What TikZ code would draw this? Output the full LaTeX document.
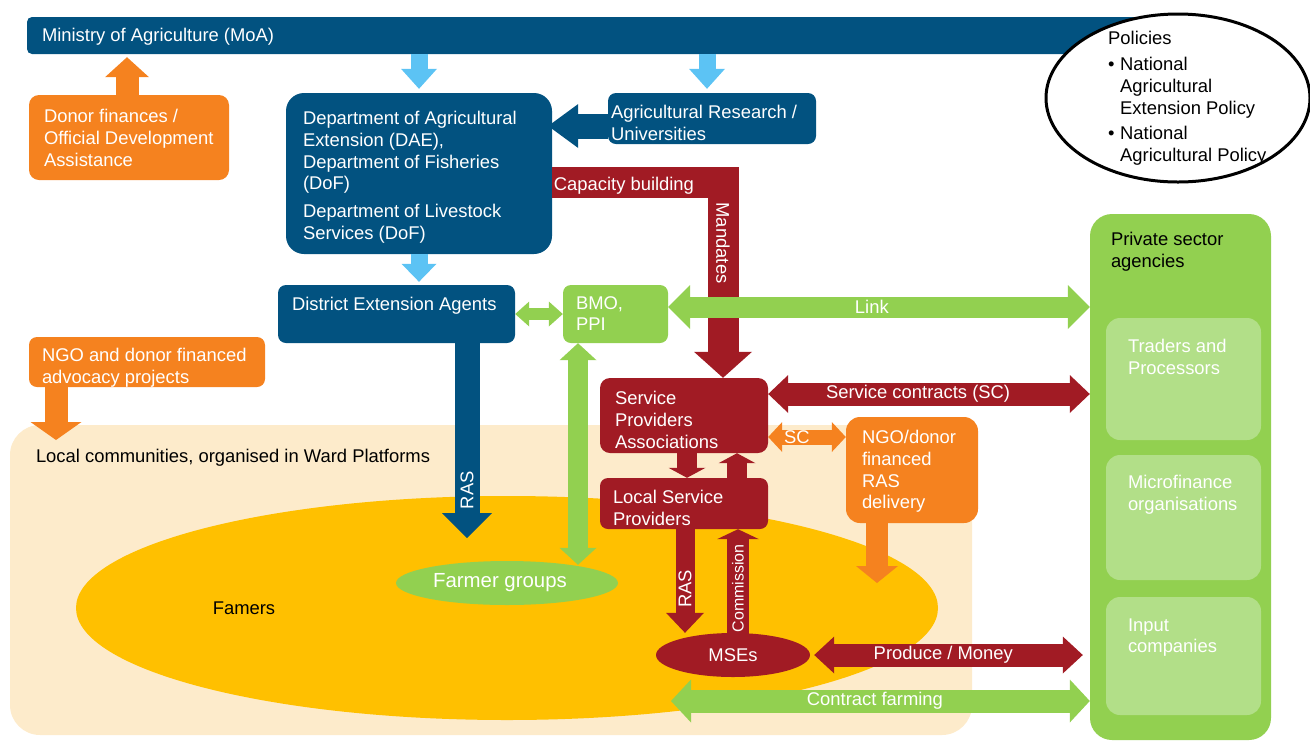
\documentclass[tikz,border=0pt]{standalone}
\usepackage{fontspec}
\setmainfont{Liberation Sans}
\usetikzlibrary{arrows.meta,shapes.geometric,calc}
\definecolor{mblue}{RGB}{2,82,128}
\definecolor{lblue}{RGB}{92,195,244}
\definecolor{morange}{RGB}{245,130,31}
\definecolor{mred}{RGB}{161,27,36}
\definecolor{mgreen}{RGB}{146,208,80}
\definecolor{lgreen}{RGB}{178,223,136}
\definecolor{myellow}{RGB}{255,192,0}
\definecolor{beige}{RGB}{253,235,203}
\begin{document}
\begin{tikzpicture}[x=1pt,y=-1pt, font=\fontsize{18.4}{21.7}\selectfont,
 box/.style={fill=#1, draw=none, rounded corners=8pt, inner sep=0pt},
 inl/.style={anchor=north west, align=left, inner sep=0pt, text=white},
 lbl/.style={text=white, inner sep=0pt},
 ar/.style args={#1/#2/#3}{line width=#1, arrows={-{Triangle[length=#2,width=#3,line width=0pt]}}},
 dar/.style args={#1/#2/#3}{line width=#1, arrows={{Triangle[length=#2,width=#3,line width=0pt]}-{Triangle[length=#2,width=#3,line width=0pt]}}},
]
\useasboundingbox (0,0) rectangle (1310,740);

% background regions
\node[box=beige, rounded corners=30pt, minimum width=962pt, minimum height=310pt,
  label={[anchor=west, inner sep=0pt, text=black, xshift=26pt, yshift=-33pt]north west:{Local communities, organised in Ward Platforms}}] (lc) at (491,580) {};
\node[ellipse, fill=myellow, minimum width=862pt, minimum height=224pt, inner sep=0pt] (farm) at (507,608) {};
\node[text=black, inner sep=0pt] (famtxt) at ([xshift=-263pt]farm.center) {Famers};
\node[ellipse, fill=mgreen, minimum width=222pt, minimum height=44pt, inner sep=0pt] (fg) at (507,583) {};
\node[lbl, font=\fontsize{20.4}{24}\selectfont] (fgtxt) at ([xshift=-7pt]fg.center) {Farmer groups};
\node[ellipse, fill=mred, minimum width=154pt, minimum height=44pt, inner sep=0pt, text=white] (mse) at (733,655) {MSEs};

% top bar and policies
\node[box=mblue, rounded corners=5pt, minimum width=1153pt, minimum height=37pt,
  label={[inl, xshift=15pt, yshift=-11.4pt]north west:Ministry of Agriculture (MoA)}] (moa) at (603.5,35.5) {};
\node[ellipse, draw=black, line width=3pt, fill=white, minimum width=264pt, minimum height=168pt, inner sep=0pt] (pol) at (1178,98) {};
\node[inl, text=black] (poltxt) at ([xshift=-70pt,yshift=66.6pt]pol.center)
  {Policies\\[4pt]\makebox[12pt][l]{•}National\\\hspace*{12pt}Agricultural\\\hspace*{12pt}Extension Policy\\[4pt]\makebox[12pt][l]{•}National\\\hspace*{12pt}Agricultural Policy};

% boxes
\node[box=morange, rounded corners=10pt, minimum width=200pt, minimum height=85pt,
  label={[inl, xshift=15pt, yshift=-14.4pt]north west:Donor finances /\\Official Development\\Assistance}] (donor) at (129,137.5) {};
\node[box=mblue, rounded corners=18pt, minimum width=266pt, minimum height=161pt,
  label={[inl, xshift=17pt, yshift=-18.4pt]north west:Department of Agricultural\\Extension (DAE),\\Department of Fisheries\\(DoF)\\[6pt]Department of Livestock\\Services (DoF)}] (dae) at (419,173.5) {};
\node[box=mblue, minimum width=208pt, minimum height=51pt,
  label={[inl, xshift=3pt, yshift=-12.4pt]north west:Agricultural Research /\\Universities}] (agr) at (712,118.5) {};
\node[box=mblue, minimum width=237pt, minimum height=58pt,
  label={[inl, xshift=14pt, yshift=-12.4pt]north west:District Extension Agents}] (dea) at (396.5,314) {};
\node[box=mgreen, minimum width=105pt, minimum height=58pt,
  label={[inl, xshift=13pt, yshift=-11.4pt]north west:BMO,\\PPI}] (bmo) at (615.5,314) {};
\node[box=morange, minimum width=236pt, minimum height=50pt,
  label={[inl, xshift=13pt, yshift=-11.4pt]north west:NGO and donor financed\\advocacy projects}] (ngo) at (147,362) {};
\node[box=mred, rounded corners=10pt, minimum width=168pt, minimum height=75pt,
  label={[inl, xshift=15pt, yshift=-13.4pt]north west:Service\\Providers\\Associations}] (spa) at (684,415.5) {};
\node[box=mred, minimum width=168pt, minimum height=51pt,
  label={[inl, xshift=13pt, yshift=-12.4pt]north west:Local Service\\Providers}] (lsp) at (684,503.5) {};
\node[box=morange, rounded corners=14pt, minimum width=132pt, minimum height=106pt,
  label={[inl, xshift=16pt, yshift=-13.4pt]north west:NGO/donor\\financed\\RAS\\delivery}] (ngoras) at (912,470) {};
\node[box=mgreen, rounded corners=22pt, minimum width=181pt, minimum height=526pt,
  label={[inl, text=black, xshift=21pt, yshift=-18.4pt]north west:Private sector\\agencies}] (priv) at (1180.5,477) {};
\node[box=lgreen, rounded corners=14pt, minimum width=155pt, minimum height=122pt,
  label={[inl, xshift=22pt, yshift=-21.4pt]north west:Traders and\\Processors}] (trad) at (1183.5,379) {};
\node[box=lgreen, rounded corners=14pt, minimum width=155pt, minimum height=125pt,
  label={[inl, xshift=22pt, yshift=-20.4pt]north west:Microfinance\\organisations}] (micro) at (1183.5,517.5) {};
\node[box=lgreen, rounded corners=14pt, minimum width=155pt, minimum height=118pt,
  label={[inl, xshift=22pt, yshift=-21.4pt]north west:Input\\companies}] (input) at (1183.5,656) {};

% arrows
\draw[morange, ar=23pt/20pt/44pt, shorten >=3pt] ([xshift=-2pt]donor.north) -- ([xshift=-2pt]donor.north |- moa.south);
\draw[lblue, ar=17pt/20pt/36pt, shorten >=4pt] (dae.north |- moa.south) -- (dae.north);
\coordinate (agrN) at ([xshift=-5pt]agr.north);
\draw[lblue, ar=17pt/20pt/36pt, shorten >=4pt] (agrN |- moa.south) -- (agrN);
\draw[lblue, ar=17pt/18pt/35pt, shorten >=3pt] (dae.south) -- (dae.south |- dea.north);
\coordinate (agrL) at ([yshift=-7.5pt]agr.west);
\draw[mblue, ar=25pt/30pt/44pt, shorten >=-4pt] (agrL) -- (agrL -| dae.east);

\coordinate (capS) at ([yshift=-9pt]dae.east);
\coordinate (capC) at (723,182.5);
\draw[mred, line width=31pt, line join=miter, arrows={-{Triangle[length=26pt,width=58pt,line width=0pt]}}]
  (capS) -- node[lbl, pos=0.42, yshift=-3pt]{Capacity building} (capC)
  -- node[lbl, rotate=-90, pos=0.31]{Mandates} (capC |- spa.north);

\draw[mgreen, dar=12pt/14pt/25pt] (dea.east) -- (bmo.west);
\coordinate (rasT) at (467,538);
\draw[mblue, ar=25pt/25pt/50pt] (rasT |- dea.south) -- node[lbl, rotate=90, pos=0.754]{RAS} (rasT);
\coordinate (bfx) at ([xshift=-37.5pt]bmo.south);
\draw[mgreen, dar=20pt/17pt/37pt, shorten >=-4pt] (bfx) -- (bfx |- fg.north);

\coordinate (lk) at ([yshift=7pt]bmo.east);
\draw[mgreen, dar=21pt/22pt/44pt] (lk) -- node[lbl, pos=0.483]{Link} (lk -| priv.west);
\coordinate (scA) at ([yshift=21.5pt]spa.east);
\draw[mred, dar=23pt/20pt/38pt] (scA) -- node[lbl, pos=0.466]{Service contracts (SC)} (scA -| priv.west);
\coordinate (scB) at ([yshift=-21.5pt]spa.east);
\draw[morange, dar=15pt/14pt/30pt] (scB) -- node[lbl, pos=0.37]{SC} (scB -| ngoras.west);

\coordinate (sd) at ([xshift=3pt]spa.south);
\draw[mred, ar=20pt/10pt/37pt] (sd) -- (sd |- lsp.north);
\coordinate (su) at ([xshift=53pt]lsp.north);
\draw[mred, ar=20pt/10pt/37pt] (su) -- (su |- spa.south);

\coordinate (lr) at ([xshift=1pt]lsp.south);
\draw[mred, ar=19pt/20pt/38pt] (lr) -- node[lbl, rotate=90, pos=0.575]{RAS} (lr |- mse.north);
\coordinate (cm) at ([xshift=54pt]lsp.south);
\draw[mred, ar=22pt/10pt/42pt, shorten <=-4pt] (cm |- mse.north) -- node[lbl, rotate=90, pos=0.43, font=\fontsize{16}{19}\selectfont]{Commission} (cm);

\coordinate (nf) at (877,583);
\draw[morange, ar=22pt/17pt/42pt] (nf |- ngoras.south) -- (nf);

\draw[mred, dar=23pt/20pt/37pt, shorten <=4pt, shorten >=7pt] (mse.east) -- node[lbl, pos=0.476]{Produce / Money} (mse.east -| priv.west);
\coordinate (cfL) at (671,701);
\draw[mgreen, dar=23pt/20pt/43pt] (cfL) -- node[lbl, pos=0.487]{Contract farming} (cfL -| priv.west);

\coordinate (nl) at (56,440);
\draw[morange, ar=23pt/18pt/51pt] (nl |- ngo.south) -- (nl);
\end{tikzpicture}
\end{document}
